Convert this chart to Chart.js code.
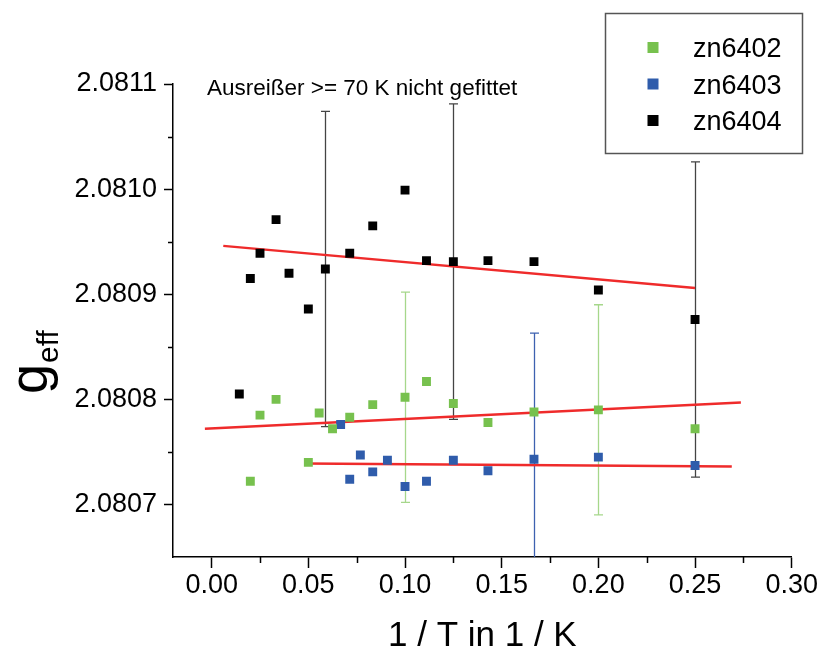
<!DOCTYPE html>
<html>
<head>
<meta charset="utf-8">
<script src="https://cdn.jsdelivr.net/npm/chart.js@4.4.1/dist/chart.umd.min.js"></script>
<style>
	html, body { margin: 0; padding: 0; background: #fff; }
	canvas { display: block; }
</style>
</head>
<body>
<canvas id="chart" width="819" height="653"></canvas>
<script>
// 1/T values (1/K) and g_eff for each sample
var x6402 = [0.02, 0.025, 0.0333, 0.05, 0.0556, 0.0625, 0.0714, 0.0833, 0.1, 0.1111, 0.125, 0.1429, 0.1667, 0.2, 0.25];
var y6402 = [2.080722, 2.080785, 2.0808, 2.08074, 2.080787, 2.080772, 2.080783, 2.080795, 2.080802, 2.080817, 2.080796, 2.080778, 2.080788, 2.08079, 2.080772];
var err6402 = [null, null, null, null, null, null, null, null, 0.0001, null, null, null, null, 0.0001, null];

var x6403 = [0.0667, 0.0714, 0.0769, 0.0833, 0.0909, 0.1, 0.1111, 0.125, 0.1429, 0.1667, 0.2, 0.25];
var y6403 = [2.080776, 2.080724, 2.080747, 2.080731, 2.080742, 2.080717, 2.080722, 2.080742, 2.080732, 2.080743, 2.080745, 2.080737];
var err6403 = [null, null, null, null, null, null, null, null, null, 0.00012, null, null];

var x6404 = [0.0143, 0.02, 0.025, 0.0333, 0.04, 0.05, 0.0588, 0.0714, 0.0833, 0.1, 0.1111, 0.125, 0.1429, 0.1667, 0.2, 0.25];
var y6404 = [2.080805, 2.080915, 2.080939, 2.080971, 2.08092, 2.080886, 2.080924, 2.080939, 2.080965, 2.080999, 2.080932, 2.080931, 2.080932, 2.080931, 2.080904, 2.080876];
var err6404 = [null, null, null, null, null, null, 0.00015, null, null, null, null, 0.00015, null, null, null, 0.00015];

// linear fits (end points)
var fitX6402 = [-0.0035, 0.2737];
var fitY6402 = [2.080772, 2.080797];
var fitX6403 = [0.0478, 0.269];
var fitY6403 = [2.080739, 2.080736];
var fitX6404 = [0.006, 0.25];
var fitY6404 = [2.080946, 2.080906];

var xTicks = [0, 0.05, 0.10, 0.15, 0.20, 0.25, 0.30];
var xMinorTicks = [0.025, 0.075, 0.125, 0.175, 0.225, 0.275];
var yTicks = [2.0807, 2.0808, 2.0809, 2.0810, 2.0811];
var yMinorTicks = [2.08075, 2.08085, 2.08095, 2.08105];

var note = "Ausreißer >= 70 K nicht gefittet";
var xTitle = "1 / T in 1 / K";

var FONT = "'Liberation Sans', Arial, sans-serif";
var GREEN = "#77c14e";
var BLUE = "#2f5cab";
var BLACK = "#000000";
var RED = "#ef2b2b";

function toPoints(xs, ys) {
	return xs.map(function(x, i) {
		return {x: x, y: ys[i]};
	});
}

function series(label, xs, ys, errs, color, barColor) {
	return {
		label: label,
		data: toPoints(xs, ys),
		errors: errs,
		barColor: barColor,
		backgroundColor: color,
		borderColor: color,
		borderWidth: 0,
		pointStyle: "rect",
		pointRadius: 6.3,
		pointHoverRadius: 6.3
	};
}

function fitLine(xs, ys) {
	return {
		type: "line",
		isFit: true,
		data: toPoints(xs, ys),
		borderColor: RED,
		borderWidth: 2.5,
		pointRadius: 0,
		fill: false,
		tension: 0
	};
}

// error bars, drawn under the markers
var errorBars = {
	id: "errorBars",
	beforeDatasetsDraw: function(chart) {
		var ctx = chart.ctx;
		var xs = chart.scales.x, ys = chart.scales.y;
		var area = chart.chartArea;
		ctx.save();
		ctx.beginPath();
		ctx.rect(area.left, area.top, area.right - area.left, area.bottom - area.top);
		ctx.clip();
		chart.data.datasets.forEach(function(ds) {
			if(!ds.errors) {
				return;
			}
			ctx.strokeStyle = ds.barColor;
			ctx.lineWidth = 1.3;
			ds.data.forEach(function(p, i) {
				var e = ds.errors[i];
				if(e === null) {
					return;
				}
				var px = Math.round(xs.getPixelForValue(p.x)) + 0.5;
				var top = ys.getPixelForValue(p.y + e);
				var bot = ys.getPixelForValue(p.y - e);
				ctx.beginPath();
				ctx.moveTo(px, top);
				ctx.lineTo(px, bot);
				ctx.moveTo(px - 4.5, top);
				ctx.lineTo(px + 4.5, top);
				ctx.moveTo(px - 4.5, bot);
				ctx.lineTo(px + 4.5, bot);
				ctx.stroke();
			});
		});
		ctx.restore();
	}
};

// minor ticks, titles, note and legend box
var decorations = {
	id: "decorations",
	afterDraw: function(chart) {
		var ctx = chart.ctx;
		var xs = chart.scales.x, ys = chart.scales.y;
		var area = chart.chartArea;
		ctx.save();
		ctx.strokeStyle = "#000";
		ctx.lineWidth = 1.5;
		ctx.beginPath();
		xMinorTicks.forEach(function(v) {
			var px = Math.round(xs.getPixelForValue(v)) + 0.5;
			ctx.moveTo(px, area.bottom);
			ctx.lineTo(px, area.bottom + 6);
		});
		yMinorTicks.forEach(function(v) {
			var py = Math.round(ys.getPixelForValue(v)) + 0.5;
			ctx.moveTo(area.left, py);
			ctx.lineTo(area.left - 5, py);
		});
		ctx.stroke();

		ctx.fillStyle = "#000";
		ctx.textBaseline = "alphabetic";

		// x title
		ctx.font = "35px " + FONT;
		ctx.textAlign = "center";
		ctx.fillText(xTitle, (area.left + area.right) / 2, 646);

		// y title: g with subscript eff
		ctx.save();
		ctx.translate(47, 394);
		ctx.rotate(-Math.PI / 2);
		ctx.textAlign = "left";
		ctx.font = "54px " + FONT;
		ctx.fillText("g", 0, 0);
		var gw = ctx.measureText("g").width;
		ctx.font = "30px " + FONT;
		ctx.fillText("eff", gw + 1, 11);
		ctx.restore();

		// note
		ctx.font = "22.5px " + FONT;
		ctx.textAlign = "left";
		ctx.fillText(note, 207, 95);

		// legend
		ctx.fillStyle = "#fff";
		ctx.fillRect(605, 13, 198, 141);
		ctx.strokeStyle = "#555";
		ctx.lineWidth = 1.5;
		ctx.strokeRect(605.5, 13.5, 197, 140);
		var rows = [47.5, 84, 120.5];
		var entries = chart.data.datasets.filter(function(ds) {
			return !ds.isFit;
		});
		ctx.font = "27px " + FONT;
		entries.forEach(function(ds, i) {
			ctx.fillStyle = ds.backgroundColor;
			ctx.fillRect(647.5, rows[i] - 5.5, 11, 11);
			ctx.fillStyle = "#000";
			ctx.fillText(ds.label, 693, rows[i] + 9.5);
		});
		ctx.restore();
	}
};

var ctx = document.getElementById("chart").getContext("2d");
new Chart(ctx, {
	type: "scatter",
	data: {
		datasets: [
			series("zn6402", x6402, y6402, err6402, GREEN, "#a6d78b"),
			series("zn6403", x6403, y6403, err6403, BLUE, "#3d61b0"),
			series("zn6404", x6404, y6404, err6404, BLACK, "#444444"),
			fitLine(fitX6402, fitY6402),
			fitLine(fitX6403, fitY6403),
			fitLine(fitX6404, fitY6404)
		]
	},
	options: {
		responsive: false,
		animation: false,
		devicePixelRatio: 1,
		layout: {padding: {top: 84, right: 27, left: 0, bottom: 0}},
		plugins: {
			legend: {display: false},
			tooltip: {enabled: false}
		},
		scales: {
			x: {
				type: "linear",
				min: -0.02,
				max: 0.30,
				afterBuildTicks: function(scale) {
					scale.ticks = xTicks.map(function(v) { return {value: v}; });
				},
				afterFit: function(scale) {
					scale.height = 96;
				},
				border: {display: true, color: "#000", width: 1.5},
				grid: {display: true, drawOnChartArea: false, drawTicks: true, tickLength: 11, tickColor: "#000", tickWidth: 1.5},
				ticks: {
					color: "#000",
					font: {family: FONT, size: 27},
					padding: 1,
					maxRotation: 0,
					autoSkip: false,
					callback: function(v) { return v.toFixed(2); }
				}
			},
			y: {
				type: "linear",
				min: 2.08065,
				max: 2.0811,
				afterBuildTicks: function(scale) {
					scale.ticks = yTicks.map(function(v) { return {value: v}; });
				},
				afterFit: function(scale) {
					scale.width = 173;
				},
				border: {display: true, color: "#000", width: 1.5},
				grid: {display: true, drawOnChartArea: false, drawTicks: true, tickLength: 9, tickColor: "#000", tickWidth: 1.5},
				ticks: {
					color: "#000",
					font: {family: FONT, size: 27},
					padding: 7,
					autoSkip: false,
					callback: function(v) { return v.toFixed(4); }
				}
			}
		}
	},
	plugins: [errorBars, decorations]
});
</script>
</body>
</html>
